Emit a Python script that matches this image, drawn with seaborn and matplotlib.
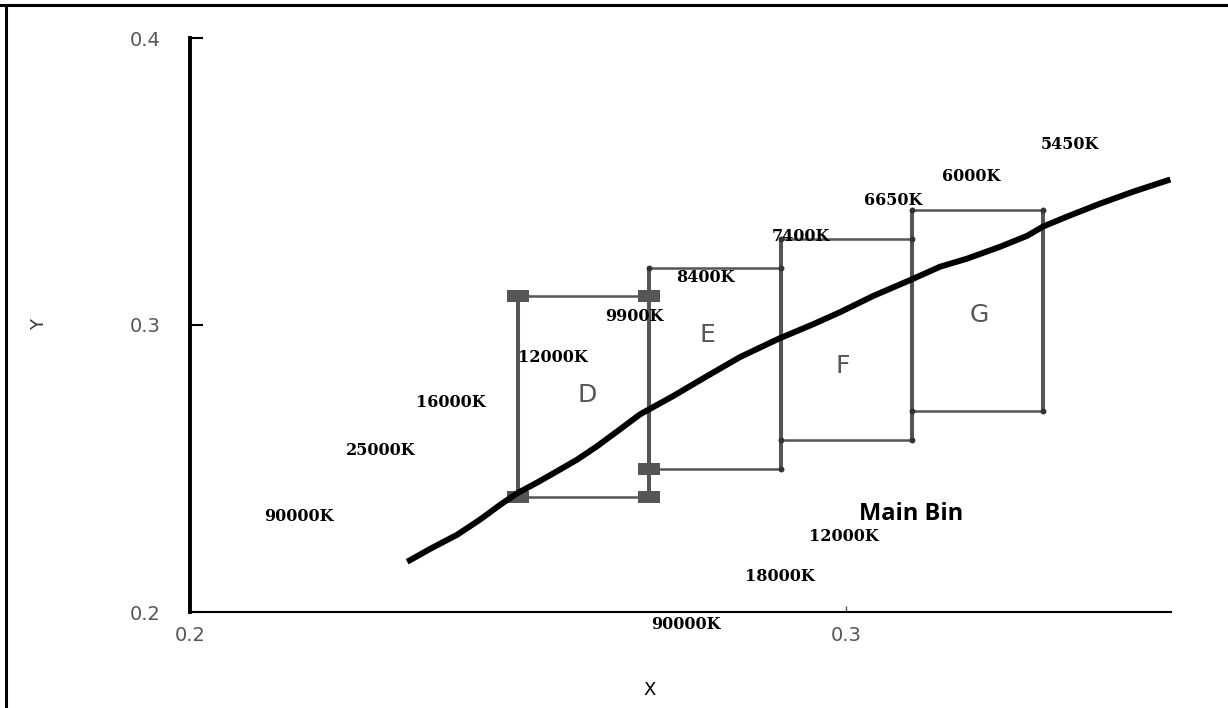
import matplotlib
matplotlib.use("Agg")
import matplotlib.pyplot as plt
import seaborn as sns
import pandas as pd
from matplotlib.lines import Line2D

# ---------------- data ----------------
locus_x = [0.2331, 0.2366, 0.2407, 0.2442, 0.2473, 0.2498, 0.2529, 0.2559,
           0.2590, 0.2620, 0.2655, 0.2686, 0.2736, 0.2788, 0.2838, 0.2896,
           0.2950, 0.2991, 0.3041, 0.3098, 0.3143, 0.3184, 0.3235, 0.3276,
           0.3300, 0.3337, 0.3387, 0.3438, 0.3494]
locus_y = [0.2175, 0.2220, 0.2269, 0.2322, 0.2374, 0.2413, 0.2451, 0.2490,
           0.2531, 0.2577, 0.2636, 0.2689, 0.2752, 0.2822, 0.2888, 0.2951,
           0.3003, 0.3045, 0.3101, 0.3157, 0.3203, 0.3231, 0.3273, 0.3311,
           0.3343, 0.3378, 0.3423, 0.3465, 0.3507]

bin_names = ["D", "E", "F", "G"]
bin_x0 = [0.25, 0.27, 0.29, 0.31]
bin_x1 = [0.27, 0.29, 0.31, 0.33]
bin_y0 = [0.24, 0.25, 0.26, 0.27]
bin_y1 = [0.31, 0.32, 0.33, 0.34]
bin_label_x = [0.2605, 0.2788, 0.2995, 0.3203]
bin_label_y = [0.2755, 0.2965, 0.2857, 0.3035]

temp_labels = ["90000K", "25000K", "16000K", "12000K", "9900K", "8400K",
               "7400K", "6650K", "6000K", "5450K", "12000K", "18000K", "90000K"]
temp_x = [0.2166, 0.2290, 0.2398, 0.2553, 0.2677, 0.2785, 0.2931, 0.3072,
          0.3191, 0.3341, 0.2997, 0.2899, 0.2755]
temp_y = [0.2332, 0.2563, 0.2731, 0.2888, 0.3028, 0.3164, 0.3308, 0.3434,
          0.3517, 0.3629, 0.2262, 0.2122, 0.1955]

main_bin_label = "Main Bin"
main_bin_pos = (0.3099, 0.2343)

x_ticks = [0.2, 0.3]
y_ticks = [0.2, 0.3, 0.4]
x_label = "X"
y_label = "Y"

# ---------------- figure ----------------
sns.set_style("ticks")
plt.rcParams["font.family"] = ["DejaVu Sans"]

fig = plt.figure(figsize=(12.28, 7.08), dpi=100)
ax = fig.add_axes([190 / 1228, (708 - 612) / 708, 981 / 1228, (612 - 38) / 708])

gray = "#555555"

# bins: vertical thick lines, horizontal thin lines
for x0, x1, y0, y1 in zip(bin_x0, bin_x1, bin_y0, bin_y1):
    ax.vlines([x0, x1], y0, y1, colors=gray, linewidth=2.9, zorder=2)
    ax.hlines([y0, y1], x0, x1, colors=gray, linewidth=1.8, zorder=2)

# corner markers (wide rectangles on bin D)
rect_marker = [(-1.7, -1), (1.7, -1), (1.7, 1), (-1.7, 1), (-1.7, -1)]
sq_x = [bin_x0[0], bin_x1[0], bin_x0[0], bin_x1[0], bin_x0[1]]
sq_y = [bin_y0[0], bin_y0[0], bin_y1[0], bin_y1[0], bin_y0[1]]
sns.scatterplot(x=sq_x, y=sq_y, marker=rect_marker, s=250, color=gray,
                edgecolor=gray, linewidth=0, ax=ax, zorder=3)
dot_x, dot_y = [], []
for i in range(1, 4):
    for cx, cy in [(bin_x0[i], bin_y1[i]), (bin_x1[i], bin_y1[i]),
                   (bin_x1[i], bin_y0[i]), (bin_x0[i], bin_y0[i])]:
        if (cx, cy) not in zip(sq_x, sq_y):
            dot_x.append(cx)
            dot_y.append(cy)
sns.scatterplot(x=dot_x, y=dot_y, marker="o", s=18, color="#333333",
                linewidth=0, ax=ax, zorder=3)

# planckian locus
df = pd.DataFrame({"x": locus_x, "y": locus_y})
sns.lineplot(data=df, x="x", y="y", sort=False, color="black",
             linewidth=4.3, ax=ax, zorder=4, solid_joinstyle="round",
             solid_capstyle="butt")

# bin letters
for name, bx, by in zip(bin_names, bin_label_x, bin_label_y):
    ax.text(bx, by, name, color=gray, fontsize=18, ha="center", va="center",
            family="DejaVu Sans")

# temperature labels
for t, tx, ty in zip(temp_labels, temp_x, temp_y):
    ax.text(tx, ty, t, fontsize=11.5, fontweight="bold", family="DejaVu Serif",
            ha="center", va="center", color="black", clip_on=False)

ax.text(main_bin_pos[0], main_bin_pos[1], main_bin_label, fontsize=17,
        fontweight="bold", family="Open Sans", ha="center", va="center",
        color="black")

# axes styling
ax.set_xlim(0.2, 0.3495)
ax.set_ylim(0.2, 0.4)
ax.set_xticks(x_ticks)
ax.set_yticks(y_ticks)
ax.set_xticklabels([f"{v:.1f}" for v in x_ticks])
ax.set_yticklabels([f"{v:.1f}" for v in y_ticks])
ax.tick_params(axis="y", direction="in", length=9, width=1.5, pad=21,
               labelsize=14, labelcolor="#555555", color="black")
ax.tick_params(axis="x", direction="in", length=4, width=1.0, pad=10,
               labelsize=14, labelcolor="#555555", color="#555555")
for spine in ["top", "right"]:
    ax.spines[spine].set_visible(False)
ax.spines["left"].set_linewidth(2.8)
ax.spines["bottom"].set_linewidth(1.5)
ax.spines["left"].set_color("black")
ax.spines["bottom"].set_color("black")

ax.set_xlabel(x_label, fontsize=13, color="black")
ax.set_ylabel(y_label, fontsize=13, color="#333333")
ax.xaxis.set_label_coords((650 - 190) / 981, (612 - 681) / 574)
ax.yaxis.set_label_coords((48 - 190) / 981, 0.5)

# figure frame (top and left edges)
fig.add_artist(Line2D([0, 1], [1 - 5 / 708, 1 - 5 / 708], color="black",
                      linewidth=2.2, transform=fig.transFigure))
fig.add_artist(Line2D([6 / 1228, 6 / 1228], [0, 1 - 5 / 708], color="black",
                      linewidth=2.2, transform=fig.transFigure))

fig.savefig("out.png", dpi=100)
